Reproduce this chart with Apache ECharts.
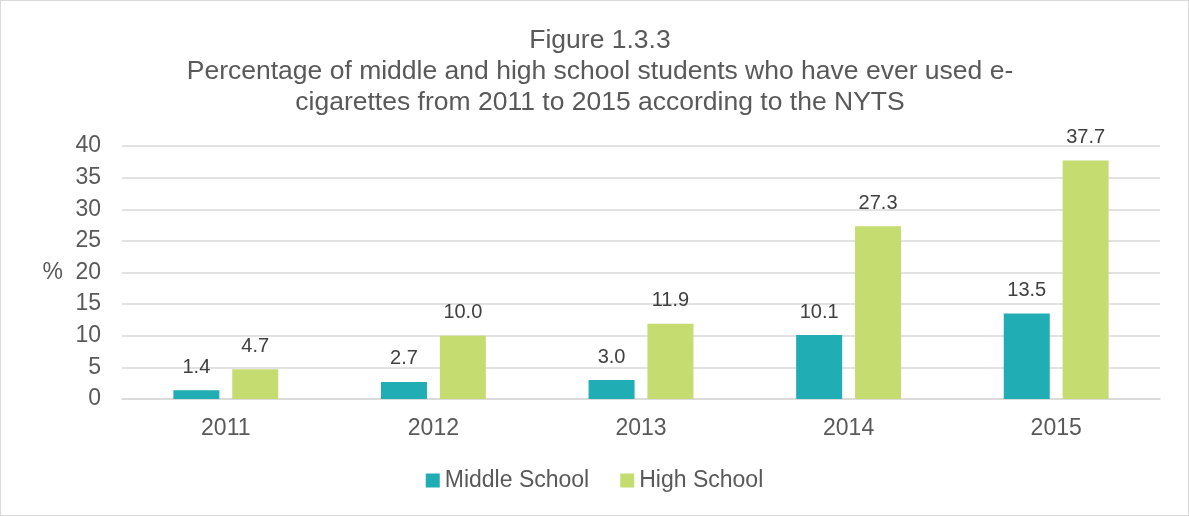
<!DOCTYPE html>
<html><head><meta charset="utf-8">
<script src="https://cdn.jsdelivr.net/npm/echarts@6/dist/echarts.min.js"></script>
<style>html,body{margin:0;padding:0;background:#fff;}#c{width:1189px;height:516px;box-sizing:border-box;border:1px solid #d9d9d9;}</style>
</head><body><div id="c"></div>
<script>
var categories = ['2011','2012','2013','2014','2015'];
var middleSchool = [1.4, 2.7, 3.0, 10.1, 13.5];
var highSchool = [4.7, 10.0, 11.9, 27.3, 37.7];
var yTicks = {min: 0, max: 40, interval: 5};

var chart = echarts.init(document.getElementById('c'));
var font = 'Arial, "Liberation Sans", sans-serif';
chart.setOption({
  animation: false,
  textStyle: {fontFamily: font},
  title: {
    text: 'Figure 1.3.3\nPercentage of middle and high school students who have ever used e-\ncigarettes from 2011 to 2015 according to the NYTS',
    left: 594, top: 19,
    textAlign: 'center',
    textStyle: {fontSize: 26.5, fontWeight: 'normal', color: '#595959', lineHeight: 31, fontFamily: font}
  },
  legend: {
    bottom: 18, left: 'center',
    itemWidth: 14, itemHeight: 14, itemGap: 31,
    icon: 'rect',
    textStyle: {fontSize: 23, color: '#595959', fontFamily: font},
    data: ['Middle School', 'High School']
  },
  grid: {left: 121, right: 28, top: 145, bottom: 116},
  xAxis: {
    type: 'category', data: categories,
    axisLine: {lineStyle: {color: '#d9d9d9', width: 1.5}},
    axisTick: {show: false},
    axisLabel: {fontSize: 23, color: '#595959', margin: 18, fontFamily: font}
  },
  yAxis: {
    type: 'value', min: yTicks.min, max: yTicks.max, interval: yTicks.interval,
    name: '%', nameLocation: 'middle', nameRotate: 0, nameGap: 59,
    nameTextStyle: {fontSize: 23, color: '#595959', fontFamily: font},
    axisLine: {show: false}, axisTick: {show: false},
    axisLabel: {fontSize: 23, color: '#595959', margin: 21, fontFamily: font},
    splitLine: {lineStyle: {color: '#d9d9d9', width: 1.5}}
  },
  series: [
    {name: 'Middle School', type: 'bar', data: middleSchool, barWidth: 46, barGap: '28%',
     itemStyle: {color: '#20adb4'},
     label: {show: true, position: 'top', distance: 13, fontSize: 20, color: '#404040', fontFamily: font,
       formatter: function(p){return p.value.toFixed(1);}}},
    {name: 'High School', type: 'bar', data: highSchool, barWidth: 46, barGap: '28%',
     itemStyle: {color: '#c5dc70'},
     label: {show: true, position: 'top', distance: 13, fontSize: 20, color: '#404040', fontFamily: font,
       formatter: function(p){return p.value.toFixed(1);}}}
  ]
});
</script></body></html>
